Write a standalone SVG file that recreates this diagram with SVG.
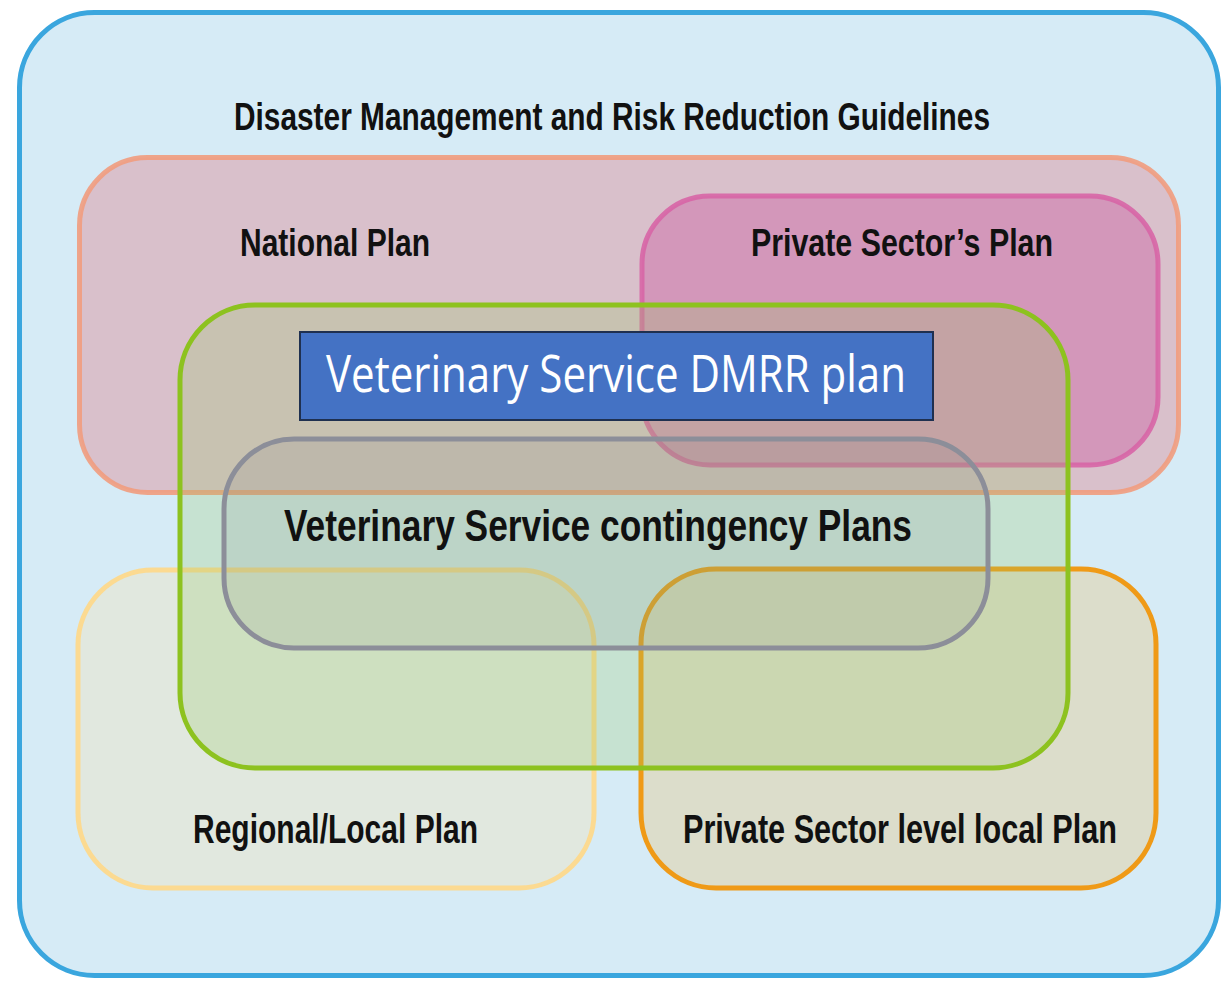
<svg xmlns="http://www.w3.org/2000/svg" width="1228" height="985" viewBox="0 0 1228 985">
<style>
.lbl{font-family:"Liberation Sans",Arial,sans-serif;font-weight:bold;fill:#111;}
.box{stroke-width:5;}
</style>
<rect width="1228" height="985" fill="#ffffff"/>
<g id="guidelines">
<rect x="19.5" y="12.5" width="1199" height="963" rx="75" fill="#d6ebf6" stroke="#3aa6de" stroke-width="5"/>
<text class="lbl" x="234" y="130" font-size="38" textLength="756" lengthAdjust="spacingAndGlyphs">Disaster Management and Risk Reduction Guidelines</text>
</g>
<g id="national">
<rect class="box" x="79.5" y="157.5" width="1099" height="335" rx="68" fill="rgb(220,149,160)" fill-opacity="0.5" stroke="#f19c7e" stroke-opacity="0.9"/>
<text class="lbl" x="240" y="256" font-size="39" textLength="190" lengthAdjust="spacingAndGlyphs">National Plan</text>
</g>
<g id="private-sector">
<rect class="box" x="642" y="196" width="516" height="269" rx="68" fill="rgb(206,109,169)" fill-opacity="0.5" stroke="#d765a6" stroke-opacity="0.9"/>
<text class="lbl" x="751" y="256" font-size="39" textLength="302" lengthAdjust="spacingAndGlyphs">Private Sector’s Plan</text>
</g>
<g id="regional">
<rect class="box" x="78" y="570" width="516" height="318" rx="75" fill="rgb(245,225,180)" fill-opacity="0.35" stroke="#fdd98c" stroke-opacity="0.95"/>
<text class="lbl" x="193" y="843" font-size="41" textLength="285" lengthAdjust="spacingAndGlyphs">Regional/Local Plan</text>
</g>
<g id="private-local">
<rect class="box" x="641" y="569" width="515" height="319" rx="75" fill="rgb(230,200,140)" fill-opacity="0.4" stroke="#f0960c" stroke-opacity="0.95"/>
<text class="lbl" x="683" y="843" font-size="41" textLength="434" lengthAdjust="spacingAndGlyphs">Private Sector level local Plan</text>
</g>
<g id="vs-green">
<rect class="box" x="180" y="305" width="888" height="463" rx="75" fill="rgb(150,200,100)" fill-opacity="0.25" stroke="#8dc21f"/>
</g>
<g id="contingency">
<rect class="box" x="224" y="439" width="764" height="209" rx="70" fill="rgb(120,120,135)" fill-opacity="0.13" stroke="#8c8e99"/>
<text class="lbl" x="284" y="541" font-size="44" textLength="628" lengthAdjust="spacingAndGlyphs">Veterinary Service contingency Plans</text>
</g>
<g id="dmrr">
<rect x="300" y="332" width="633" height="88" fill="#4472c4" stroke="#1f3050" stroke-width="2"/>
<text x="326" y="392" font-family="'Open Sans','Noto Sans',sans-serif" font-size="52" fill="#ffffff" textLength="580" lengthAdjust="spacingAndGlyphs">Veterinary Service DMRR plan</text>
</g>
<g id="connectors"></g>
</svg>
